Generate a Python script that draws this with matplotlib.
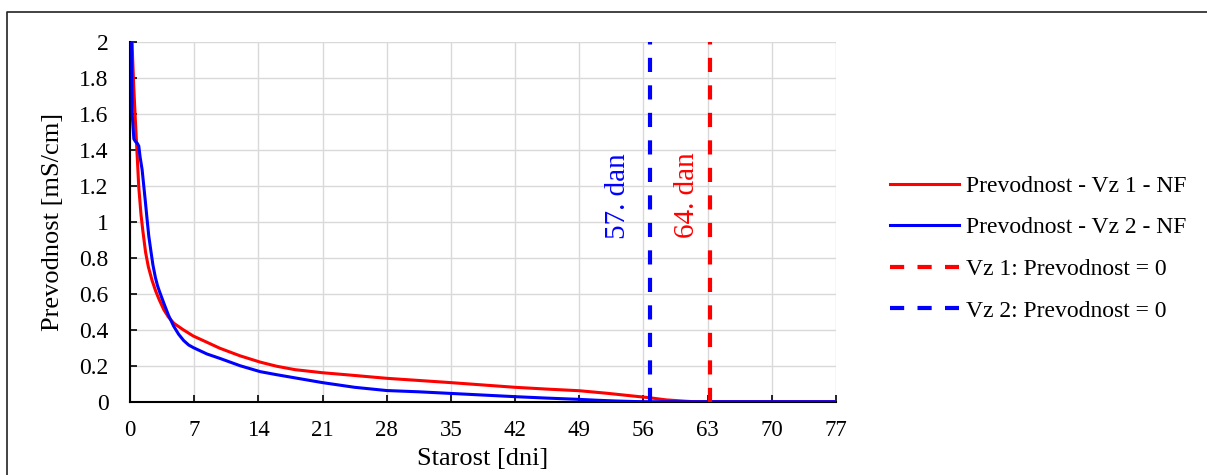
import matplotlib
matplotlib.use('Agg')
import numpy as np
import matplotlib.pyplot as plt
from matplotlib.lines import Line2D

# Conductivity readings (day, mS/cm)
days_vz1 = [0.22, 0.4, 0.55, 0.75, 0.96, 1.2, 1.4, 1.7, 2.0, 2.4, 2.8, 3.2, 3.7, 4.2,
            4.8, 5.8, 6.9, 8.4, 9.8, 12, 14.2, 16, 18, 21, 24, 28, 31.5, 35, 38.5,
            42, 45.5, 49, 52, 54.8, 56.5, 58.5, 60.5, 61.5, 77]
cond_vz1 = [2.0, 1.76, 1.6, 1.40, 1.19, 1.04, 0.95, 0.83, 0.75, 0.675, 0.615, 0.565, 0.51,
            0.47, 0.435, 0.40, 0.365, 0.33, 0.297, 0.255, 0.22, 0.197, 0.178, 0.161,
            0.148, 0.13, 0.118, 0.106, 0.093, 0.08, 0.07, 0.061, 0.047, 0.032, 0.023,
            0.01, 0.003, 0.0, 0.0]

days_vz2 = [0.18, 0.2, 0.24, 0.3, 0.42, 0.6, 0.8, 0.96, 1.1, 1.32, 1.5, 1.68, 1.87, 2.05,
            2.3, 2.5, 2.77, 3.0, 3.2, 3.67, 4.2, 4.76, 5.3, 5.85, 6.4, 6.93, 8.4, 9.84,
            12, 14.2, 16, 18.5, 21, 24.5, 28, 31.5, 35, 38.5, 42, 45.5, 49, 51, 53, 55,
            56.5, 77]
cond_vz2 = [2.0, 1.8, 1.6, 1.55, 1.46, 1.445, 1.435, 1.42, 1.36, 1.29, 1.20, 1.11, 1.01,
            0.92, 0.83, 0.76, 0.69, 0.645, 0.615, 0.55, 0.48, 0.42, 0.375, 0.34, 0.315,
            0.30, 0.265, 0.24, 0.2, 0.167, 0.15, 0.128, 0.106, 0.08, 0.062, 0.055, 0.046,
            0.037, 0.028, 0.02, 0.013, 0.008, 0.004, 0.001, 0.0, 0.0]

# Day at which conductivity reaches zero
zero_day_vz1 = 63.3
zero_day_vz2 = 56.7
label_vz1 = '64. dan'
label_vz2 = '57. dan'

x_ticks = list(range(0, 78, 7))
y_ticks = [0, 0.2, 0.4, 0.6, 0.8, 1, 1.2, 1.4, 1.6, 1.8, 2]

RED = '#FF0000'
BLUE = '#0000FF'

plt.rcParams['font.family'] = ['Liberation Serif', 'DejaVu Serif']

fig = plt.figure(figsize=(12.07, 4.75), dpi=100, facecolor='white')
ax = fig.add_axes([0.1077, 0.1543, 0.5849, 0.7579])

ax.plot(days_vz1, cond_vz1, color=RED, lw=2.2, label='Prevodnost - Vz 1 - NF', zorder=3)
ax.plot(days_vz2, cond_vz2, color=BLUE, lw=2.2, label='Prevodnost - Vz 2 - NF', zorder=4)
ax.axvline(zero_day_vz1, color=RED, lw=3, dashes=(3.4, 3.2),
           label='Vz 1: Prevodnost = 0', zorder=5)
ax.axvline(zero_day_vz2, color=BLUE, lw=3, dashes=(3.4, 3.2),
           label='Vz 2: Prevodnost = 0', zorder=5)

ax.text(zero_day_vz2 - 3.5, 1.14, label_vz2, color=BLUE, fontsize=21,
        rotation=90, ha='center', va='center')
ax.text(zero_day_vz1 - 2.5, 1.15, label_vz1, color=RED, fontsize=21,
        rotation=90, ha='center', va='center')

ax.set_xlim(0, 77)
ax.set_ylim(0, 2)
ax.set_xticks(x_ticks)
ax.set_yticks(y_ticks)
ax.set_yticklabels([f'{v:g}' for v in y_ticks])
ax.tick_params(axis='both', direction='in', length=5, width=1.2, labelsize=16.5)
ax.tick_params(axis='y', labelsize=17)
ax.tick_params(axis='x', pad=13)
ax.tick_params(axis='y', pad=15.5)

ax.grid(True, color='#d9d9d9', lw=1.0)
ax.set_axisbelow(True)
for s in ['top', 'right']:
    ax.spines[s].set_visible(False)
for s in ['left', 'bottom']:
    ax.spines[s].set_linewidth(1.5)

ax.set_xlabel('Starost [dni]', fontsize=19)
ax.set_ylabel('Prevodnost [mS/cm]', fontsize=19)
ax.xaxis.set_label_coords(0.5, -0.128)
ax.yaxis.set_label_coords(-0.094, 0.5)

ax.legend(loc='center left', bbox_to_anchor=(0.7374, 0.477),
          bbox_transform=fig.transFigure, frameon=False, fontsize=17,
          borderpad=0, borderaxespad=0, handlelength=2.9, handletextpad=0.3,
          labelspacing=0.85)

# thin frame on the top and left edges of the image
fig.add_artist(Line2D([7 / 1207, 7 / 1207, 1.0], [0.0, 1 - 12 / 475, 1 - 12 / 475],
                      transform=fig.transFigure, color='#222222', lw=1.2))

plt.savefig('out.png', dpi=100, facecolor='white')
